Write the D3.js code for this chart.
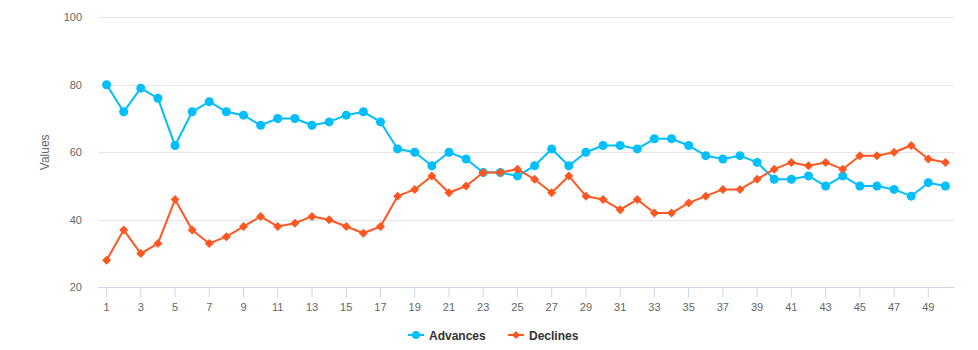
<!DOCTYPE html>
<html>
<head>
<meta charset="utf-8">
<script src="https://cdn.jsdelivr.net/npm/d3@7"></script>
<style>
html,body{margin:0;padding:0;background:#fff;}
svg{display:block;font-family:"Liberation Sans",Arial,sans-serif;}
</style>
</head>
<body>
<svg id="chart" width="978" height="350"></svg>
<script>
const categories = d3.range(1, 51).map(String);
const advances = [80,72,79,76,62,72,75,72,71,68,70,70,68,69,71,72,69,61,60,56,60,58,54,54,53,56,61,56,60,62,62,61,64,64,62,59,58,59,57,52,52,53,50,53,50,50,49,47,51,50];
const declines = [28,37,30,33,46,37,33,35,38,41,38,39,41,40,38,36,38,47,49,53,48,50,54,54,55,52,48,53,47,46,43,46,42,42,45,47,49,49,52,55,57,56,57,55,59,59,60,62,58,57];
const yTicks = [20,40,60,80,100];
const xTickLabels = categories.filter((d,i) => i % 2 === 0);
const seriesNames = ["Advances","Declines"];
const seriesColors = ["#00bfff","#ff5722"];

const svg = d3.select("#chart");
const plotL = 98, plotR = 954, plotT = 17.3, plotB = 287.3;

const x = d3.scaleBand().domain(categories).range([plotL, plotR]);
const xc = d => x(d) + x.bandwidth()/2;
const y = d3.scaleLinear().domain([20,100]).range([plotB, plotT]);

// grid
svg.append("g").selectAll("line").data(yTicks.slice(1)).join("line")
  .attr("x1", plotL).attr("x2", plotR)
  .attr("y1", d => Math.round(y(d))+0.5).attr("y2", d => Math.round(y(d))+0.5)
  .attr("stroke", "#e6e6e6").attr("stroke-width", 1);

// y labels
svg.append("g").selectAll("text").data(yTicks).join("text")
  .attr("x", 82).attr("y", d => y(d)+4)
  .attr("text-anchor","end").attr("font-size", 11).attr("fill", "#666")
  .text(d => d);

// y title
svg.append("text")
  .attr("transform", `translate(49,${(plotT+plotB)/2}) rotate(-90)`)
  .attr("text-anchor","middle").attr("font-size", 12).attr("fill","#666")
  .text("Values");

// x axis
const xAxis = d3.axisBottom(x).tickValues(xTickLabels).tickSizeOuter(0).tickSize(10).tickPadding(4);
const gx = svg.append("g").attr("transform", `translate(0,${Math.round(plotB)+0.5})`).call(xAxis);
gx.select(".domain").attr("stroke","#ccd6eb").attr("d", `M${plotL},0H${plotR}`);
gx.selectAll(".tick line").attr("stroke","#ccd6eb");
gx.selectAll(".tick text").attr("fill","#666").attr("font-size",11).attr("font-family","Liberation Sans, Arial, sans-serif").attr("dy","0.9em");

const line = d3.line().x((d,i) => xc(categories[i])).y(d => y(d));
const diamond = r => `M0,${-r}L${r},0L0,${r}L${-r},0Z`;

[advances, declines].forEach((data, si) => {
  const g = svg.append("g");
  g.append("path").datum(data).attr("d", line)
    .attr("fill","none").attr("stroke", seriesColors[si]).attr("stroke-width", 2)
    .attr("stroke-linejoin","round").attr("stroke-linecap","round");
  if (si === 0) {
    g.selectAll("circle").data(data).join("circle")
      .attr("cx",(d,i)=>xc(categories[i])).attr("cy",d=>y(d)).attr("r",4.5)
      .attr("fill", seriesColors[si]);
  } else {
    g.selectAll("path.m").data(data).join("path").attr("class","m")
      .attr("transform",(d,i)=>`translate(${xc(categories[i])},${y(d)})`)
      .attr("d", diamond(4.5)).attr("fill", seriesColors[si]);
  }
});

// legend
const legendX = [408, 508];
const lg = svg.append("g");
seriesNames.forEach((name, i) => {
  const gx0 = legendX[i], cy = 335;
  lg.append("line").attr("x1", gx0).attr("x2", gx0+16).attr("y1", cy).attr("y2", cy)
    .attr("stroke", seriesColors[i]).attr("stroke-width", 2);
  if (i === 0) lg.append("circle").attr("cx", gx0+8).attr("cy", cy).attr("r", 4).attr("fill", seriesColors[i]);
  else lg.append("path").attr("transform",`translate(${gx0+8},${cy})`).attr("d", diamond(4)).attr("fill", seriesColors[i]);
  lg.append("text").attr("x", gx0+21).attr("y", cy+4.5).attr("font-size",12).attr("font-weight","bold")
    .attr("fill","#333").text(name);
});
</script>
</body>
</html>
